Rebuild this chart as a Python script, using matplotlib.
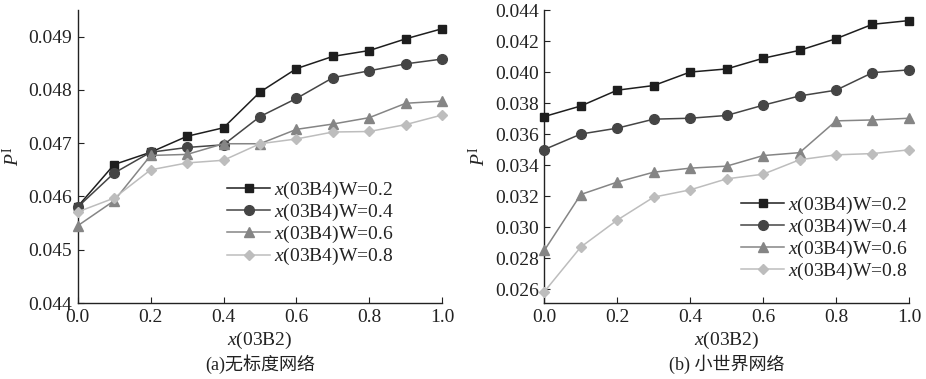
import matplotlib
matplotlib.use("Agg")
import matplotlib.pyplot as plt

plt.rcParams['font.family'] = ['Liberation Serif', 'Noto Sans CJK SC']
plt.rcParams['mathtext.fontset'] = 'custom'
plt.rcParams['mathtext.rm'] = 'Liberation Serif'
plt.rcParams['mathtext.it'] = 'Liberation Serif:italic'

x = [0.0, 0.1, 0.2, 0.3, 0.4, 0.5, 0.6, 0.7, 0.8, 0.9, 1.0]
series_labels = ["$x$(03B4)W=0.2", "$x$(03B4)W=0.4", "$x$(03B4)W=0.6", "$x$(03B4)W=0.8"]

a_w02 = [0.04581, 0.04660, 0.04683, 0.04713, 0.04729, 0.04796, 0.04840, 0.04863, 0.04874, 0.04896, 0.04915]
a_w04 = [0.04580, 0.04644, 0.04683, 0.04692, 0.04697, 0.04750, 0.04784, 0.04823, 0.04836, 0.04849, 0.04858]
a_w06 = [0.04545, 0.04592, 0.04677, 0.04679, 0.04699, 0.04699, 0.04726, 0.04736, 0.04748, 0.04775, 0.04779]
a_w08 = [0.04571, 0.04597, 0.04650, 0.04663, 0.04668, 0.04699, 0.04708, 0.04721, 0.04722, 0.04735, 0.04753]

b_w02 = [0.03713, 0.03781, 0.03883, 0.03913, 0.04000, 0.04020, 0.04089, 0.04140, 0.04215, 0.04308, 0.04332]
b_w04 = [0.03500, 0.03600, 0.03638, 0.03696, 0.03702, 0.03720, 0.03786, 0.03846, 0.03883, 0.03996, 0.04014]
b_w06 = [0.02849, 0.03210, 0.03290, 0.03354, 0.03380, 0.03393, 0.03461, 0.03480, 0.03685, 0.03691, 0.03702]
b_w08 = [0.02583, 0.02871, 0.03045, 0.03193, 0.03240, 0.03311, 0.03341, 0.03434, 0.03466, 0.03474, 0.03498]

a_yticks = [0.044, 0.045, 0.046, 0.047, 0.048, 0.049]
b_yticks = [0.026, 0.028, 0.030, 0.032, 0.034, 0.036, 0.038, 0.040, 0.042, 0.044]
xticks = [0.0, 0.2, 0.4, 0.6, 0.8, 1.0]

colors = ['#1e1e1e', '#454545', '#858585', '#bdbdbd']
markers = ['s', 'o', '^', 'D']
msizes = [6, 7, 7, 5.5]

fig = plt.figure(figsize=(9.26, 3.79), dpi=100)
ax1 = fig.add_axes([0.0839, 0.2005, 0.3937, 0.773])
ax2 = fig.add_axes([0.5878, 0.2005, 0.3938, 0.773])

def draw(ax, data, yticks, ylim, legend_anchor, caption):
    for d, c, m, ms, lab in zip(data, colors, markers, msizes, series_labels):
        ax.plot(x, d, color=c, marker=m, markersize=ms, linewidth=1.1, label=lab,
                clip_on=False, zorder=3)
    ax.set_xlim(0, 1.0)
    ax.set_ylim(*ylim)
    ax.set_xticks(xticks)
    ax.set_xticklabels([f"{t:.1f}" for t in xticks])
    ax.set_yticks(yticks)
    ax.set_yticklabels([f"{t:.3f}" for t in yticks])
    for s in ['top', 'right']:
        ax.spines[s].set_visible(False)
    for s in ['left', 'bottom']:
        ax.spines[s].set_linewidth(1.0)
        ax.spines[s].set_color('#222222')
    ax.tick_params(direction='in', length=4, width=0.8, labelsize=14, colors='#222222', pad=4)
    ax.set_xlabel("$x$(03B2)", fontsize=14, labelpad=3, color='#222222')
    ax.set_ylabel("$P^{\\mathrm{I}}$", fontsize=14, labelpad=4, color='#222222')
    leg = ax.legend(loc='upper left', bbox_to_anchor=legend_anchor, frameon=False,
                    fontsize=14, handlelength=2.2, handletextpad=0.2, labelspacing=0.05,
                    borderaxespad=0, borderpad=0)
    for t in leg.get_texts():
        t.set_color('#222222')
    ax.text(0.5, -0.175, caption, transform=ax.transAxes, ha='center', va='top',
            fontsize=13, color='#222222')

draw(ax1, [a_w02, a_w04, a_w06, a_w08], a_yticks, (0.044, 0.0495), (0.41, 0.42), "(a)无标度网络")
draw(ax2, [b_w02, b_w04, b_w06, b_w08], b_yticks, (0.0251, 0.044), (0.54, 0.37), "(b) 小世界网络")

fig.savefig("out.png", dpi=100)
